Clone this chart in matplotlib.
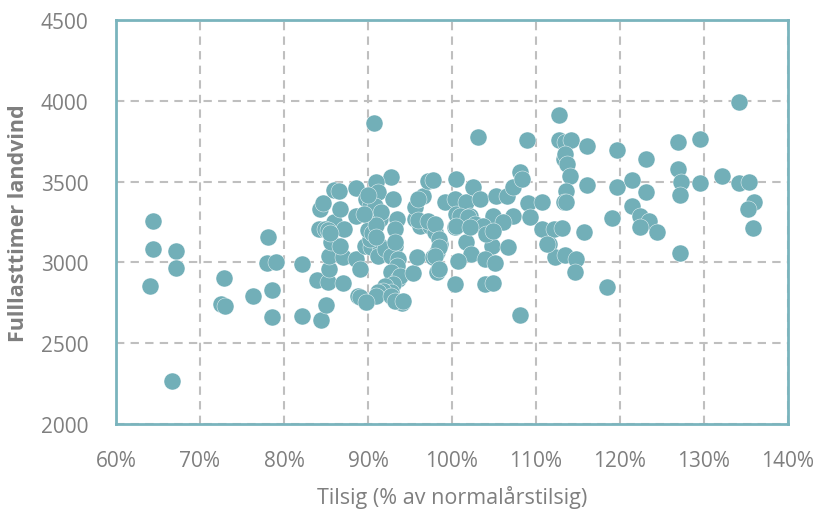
import numpy as np
import matplotlib
matplotlib.use("Agg")
import matplotlib.pyplot as plt
from matplotlib.ticker import FuncFormatter

plt.rcParams['font.family'] = ['Open Sans', 'DejaVu Sans']

# Data: inflow (% of normal year) vs full-load hours
tilsig = [
    64.4, 64.4, 64.1, 67.1, 67.1, 66.7, 72.9, 72.5, 73.0, 76.3,
    78.1, 78.0, 79.0, 78.6, 78.6, 82.2, 82.1, 84.4, 85.0, 83.9,
    85.2, 87.0, 85.4, 85.3, 87.0, 85.6, 86.7, 84.2, 85.9, 87.1,
    84.9, 84.3, 84.7, 86.7, 86.0, 86.6, 85.2, 85.5, 88.6, 88.6,
    88.6, 89.0, 88.8, 89.8, 89.0,
    90.75, 92.8, 90.9, 91.2, 93.0, 89.8, 90.2, 90.6, 91.4, 93.4,
    93.2, 89.6, 90.4, 91.4, 93.2, 92.6, 90.2, 90.8, 91.6, 91.2,
    92.0, 92.8, 93.6, 93.4, 92.8, 93.6, 93.8, 93.0, 92.0, 92.8,
    91.8, 91.2, 91.0, 92.8, 89.8, 94.0, 93.2, 94.2, 93.2, 90.0,
    90.5, 91.0, 89.5, 90.0, 91.0,
    95.4, 95.8, 95.6, 95.6, 96.6, 97.2, 97.8, 96.2, 97.4, 98.0,
    98.6, 98.2, 98.2, 97.8, 96.0, 97.2, 98.0, 98.4, 98.4, 98.0,
    98.4, 96.0,
    100.5, 99.2, 100.4, 100.5, 100.4, 101.7, 102.5, 103.3, 102.1, 101.7,
    102.3, 100.7, 100.4, 103.1, 103.9, 104.9, 104.7, 104.8, 103.9, 105.1,
    103.9, 104.9, 105.3, 106.5, 107.3, 108.1, 108.3, 107.3, 106.1, 106.7,
    108.1, 108.9, 109.1, 109.3, 101.0, 101.9, 102.8, 103.7, 104.1, 104.9,
    100.5, 102.1,
    110.7, 110.7, 111.5, 112.1, 113.1, 112.3, 113.5, 114.8, 114.6, 112.7,
    112.7, 113.5, 114.2, 113.3, 113.5, 113.7, 114.0, 113.6, 113.3, 113.6,
    116.1, 116.1, 115.7, 118.4, 119.6, 119.6, 119.1, 121.4, 123.1, 123.1,
    121.4, 122.4, 123.4, 122.4, 124.4, 126.9, 126.9, 127.3, 127.1, 127.1,
    129.5, 129.5, 132.1, 134.2, 134.2, 135.4, 135.9, 135.3, 135.8, 111.3,
]

timer = [
    3256, 3083, 2854, 3070, 2965, 2266, 2903, 2740, 2728, 2792,
    3157, 2995, 3000, 2829, 2662, 2990, 2670, 2645, 2736, 2893,
    2879, 2872, 2959, 3042, 3035, 3126, 3103, 3207, 3248, 3207,
    3207, 3330, 3367, 3330, 3450, 3442, 3200, 3180, 3458, 3289,
    3021, 2959, 2794, 2753, 2784,
    3862, 3530, 3499, 3434, 3392, 3392, 3351, 3310, 3269, 3269,
    3207, 3103, 3093, 3103, 3103, 3062, 3145, 3351, 3310, 3042,
    3083, 3042, 3021, 2979, 2939, 2897, 2918, 2866, 2856, 2815,
    2825, 2815, 2794, 2794, 2757, 2749, 2763, 2763, 3124, 3200,
    3180, 3230, 3300, 3420, 3160,
    2934, 3031, 3269, 3341, 3413, 3506, 3510, 3227, 3227, 3186,
    3114, 3062, 2939, 3031, 3260, 3258, 3238, 3145, 3093, 3042,
    2959, 3392,
    3516, 3372, 3392, 3300, 3217, 3372, 3464, 3392, 3289, 3124,
    3052, 3011, 2866, 3774, 3207, 3289, 3186, 3103, 3021, 2994,
    2866, 2870, 3413, 3413, 3464, 3557, 3516, 3289, 3248, 3093,
    2675, 3755, 3367, 3279, 3289, 3279, 3238, 3227, 3176, 3196,
    3227, 3217,
    3372, 3207, 3114, 3207, 3211, 3031, 3046, 3021, 2939, 3912,
    3755, 3745, 3755, 3640, 3671, 3609, 3536, 3444, 3376, 3372,
    3722, 3481, 3190, 2846, 3695, 3464, 3275, 3510, 3640, 3434,
    3346, 3289, 3258, 3217, 3186, 3745, 3578, 3499, 3417, 3058,
    3764, 3489, 3536, 3990, 3489, 3495, 3372, 3330, 3211, 3114,
]

x_ticks = [60, 70, 80, 90, 100, 110, 120, 130, 140]
y_ticks = [2000, 2500, 3000, 3500, 4000, 4500]

teal = "#72afb8"
spine_color = "#7ab4bd"
text_color = "#7f7f7f"

fig = plt.figure(figsize=(8.14, 5.10), dpi=100)
ax = fig.add_axes([0.1425, 0.1667, 0.8255, 0.7921])

ax.scatter(tilsig, timer, s=150, color=teal, edgecolors="white", linewidths=0.3, zorder=3)

ax.set_xlim(60, 140)
ax.set_ylim(2000, 4500)
ax.set_xticks(x_ticks)
ax.set_yticks(y_ticks)
ax.xaxis.set_major_formatter(FuncFormatter(lambda v, p: f"{int(v)}%"))

ax.grid(True, linestyle=(0, (4, 3)), color="#bfbfbf", linewidth=1.5, zorder=0)
ax.set_axisbelow(True)

for sp in ax.spines.values():
    sp.set_color(spine_color)
    sp.set_linewidth(2)

ax.tick_params(axis="both", length=0, labelsize=15, colors=text_color)
ax.tick_params(axis="y", pad=20)
ax.tick_params(axis="x", pad=19)

ax.set_xlabel("Tilsig (% av normalårstilsig)", fontsize=15.5, color=text_color, labelpad=10)
ax.set_ylabel("Fulllasttimer landvind", fontsize=15.5, color=text_color, fontweight="bold", labelpad=8)

fig.savefig("out.png", dpi=100)
